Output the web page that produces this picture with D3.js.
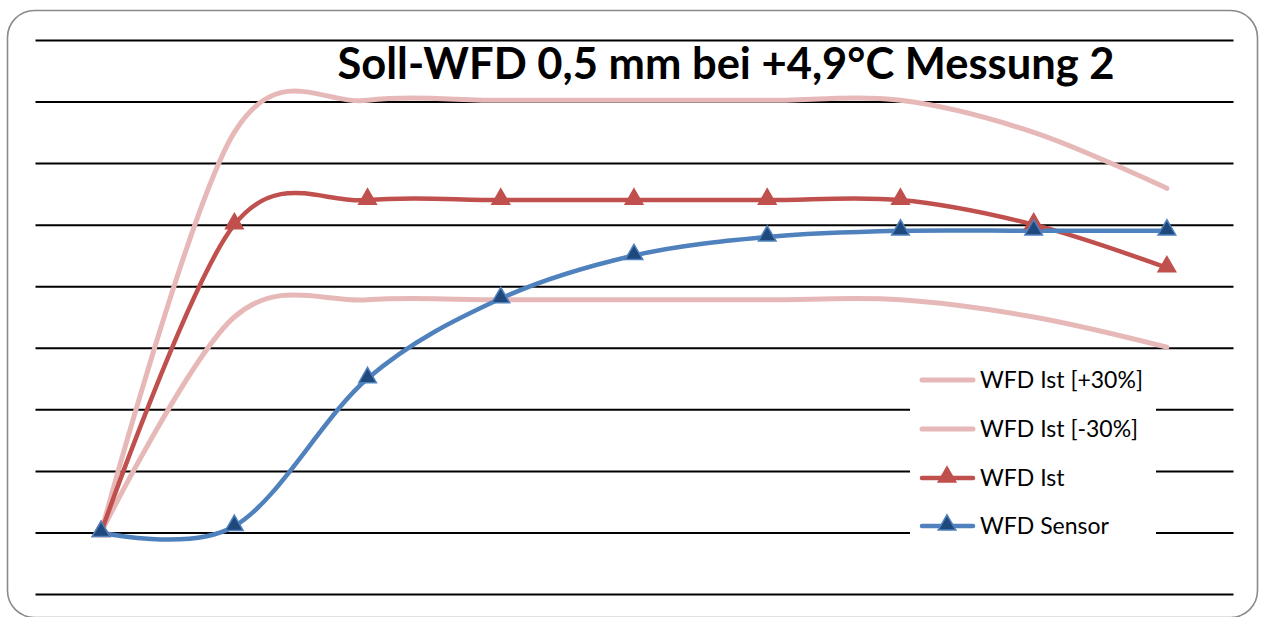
<!DOCTYPE html>
<html>
<head>
<meta charset="utf-8">
<script src="https://cdn.jsdelivr.net/npm/d3@7"></script>
<style>
  html, body { margin: 0; padding: 0; background: #fff; }
  svg { display: block; }
</style>
</head>
<body>
<svg id="chart" width="1261" height="617"></svg>
<script>
// Measurement steps (category axis, labels hidden)
const steps = ["1", "2", "3", "4", "5", "6", "7", "8", "9"];

// WFD values in mm
const wfdPlus30  = [0, 0.65, 0.702, 0.702, 0.702, 0.702, 0.702, 0.65, 0.559];
const wfdMinus30 = [0, 0.35, 0.378, 0.378, 0.378, 0.378, 0.378, 0.35, 0.301];
const wfdIst     = [0, 0.50, 0.54, 0.54, 0.54, 0.54, 0.54, 0.50, 0.43];
const wfdSensor  = [0, 0.01, 0.25, 0.38, 0.45, 0.48, 0.49, 0.49, 0.49];

const gridTicks = [-0.1, 0, 0.1, 0.2, 0.3, 0.4, 0.5, 0.6, 0.7, 0.8];

const titleText = "Soll-WFD 0,5 mm bei +4,9°C Messung 2";
const legendLabels = ["WFD Ist [+30%]", "WFD Ist [-30%]", "WFD Ist", "WFD Sensor"];

const svg = d3.select("#chart");

// outer chart frame
svg.append("rect")
  .attr("x", 7.5).attr("y", 10.5)
  .attr("width", 1250).attr("height", 607)
  .attr("rx", 27).attr("ry", 27)
  .attr("fill", "#fff")
  .attr("stroke", "#8a8a8a")
  .attr("stroke-width", 1.6);

const plot = { left: 34.5, right: 1233.5, top: 40, bottom: 594 };

const x = d3.scalePoint()
  .domain(steps)
  .range([plot.left, plot.right])
  .padding(0.5);

const y = d3.scaleLinear()
  .domain([-0.1, 0.8])
  .range([plot.bottom, plot.top]);

// horizontal gridlines
const yAxis = d3.axisLeft(y)
  .tickValues(gridTicks)
  .tickSize(-(plot.right - plot.left) + 1)
  .tickFormat("");
const gAxis = svg.append("g")
  .attr("transform", `translate(${plot.left + 1},0)`)
  .call(yAxis);
gAxis.select(".domain").remove();
gAxis.selectAll(".tick line")
  .attr("stroke", "#000")
  .attr("stroke-width", 2);

// title
svg.append("text")
  .attr("x", 726).attr("y", 79)
  .attr("text-anchor", "middle")
  .attr("font-family", "Lato, 'Open Sans', sans-serif")
  .attr("font-weight", "bold")
  .attr("font-size", 43.5)
  .attr("fill", "#000")
  .text(titleText);

const line = d3.line()
  .x((d, i) => x(steps[i]))
  .y(d => y(d))
  .curve(d3.curveCardinal.tension(0));

const series = [
  { name: legendLabels[0], values: wfdPlus30,  color: "#E6B9B8", width: 5,   marker: false },
  { name: legendLabels[1], values: wfdMinus30, color: "#E6B9B8", width: 5,   marker: false },
  { name: legendLabels[2], values: wfdIst,     color: "#C0504D", width: 4.5, marker: true, fill: "#C0504D", stroke: "#C0504D" },
  { name: legendLabels[3], values: wfdSensor,  color: "#4F81BD", width: 4.5, marker: true, fill: "#1F497D", stroke: "#4F81BD" }
];

const tri = d3.symbol().type(d3.symbolTriangle).size(135);

series.forEach(s => {
  svg.append("path")
    .datum(s.values)
    .attr("d", line)
    .attr("fill", "none")
    .attr("stroke", s.color)
    .attr("stroke-width", s.width)
    .attr("stroke-linecap", "round")
    .attr("stroke-linejoin", "round");
});

series.filter(s => s.marker).forEach(s => {
  svg.append("g").selectAll("path")
    .data(s.values)
    .join("path")
    .attr("d", tri)
    .attr("transform", (d, i) => `translate(${x(steps[i])},${y(d) - 1})`)
    .attr("fill", s.fill)
    .attr("stroke", s.stroke)
    .attr("stroke-width", 1.5);
});

// legend
const legend = svg.append("g");
legend.append("rect")
  .attr("x", 910).attr("y", 356)
  .attr("width", 246).attr("height", 190)
  .attr("fill", "#fff");

const rowY = [380, 429, 478, 526];
series.forEach((s, i) => {
  const g = legend.append("g").attr("transform", `translate(0,${rowY[i]})`);
  g.append("line")
    .attr("x1", 922).attr("x2", 973)
    .attr("y1", 0).attr("y2", 0)
    .attr("stroke", s.color)
    .attr("stroke-width", s.width)
    .attr("stroke-linecap", "round");
  if (s.marker) {
    g.append("path")
      .attr("d", tri)
      .attr("transform", "translate(947,-1)")
      .attr("fill", s.fill)
      .attr("stroke", s.stroke)
      .attr("stroke-width", 1.5);
  }
  g.append("text")
    .attr("x", 980).attr("y", 8)
    .attr("font-family", "Lato, 'Open Sans', sans-serif")
    .attr("font-size", 23)
    .attr("fill", "#000")
    .text(s.name);
});
</script>
</body>
</html>
